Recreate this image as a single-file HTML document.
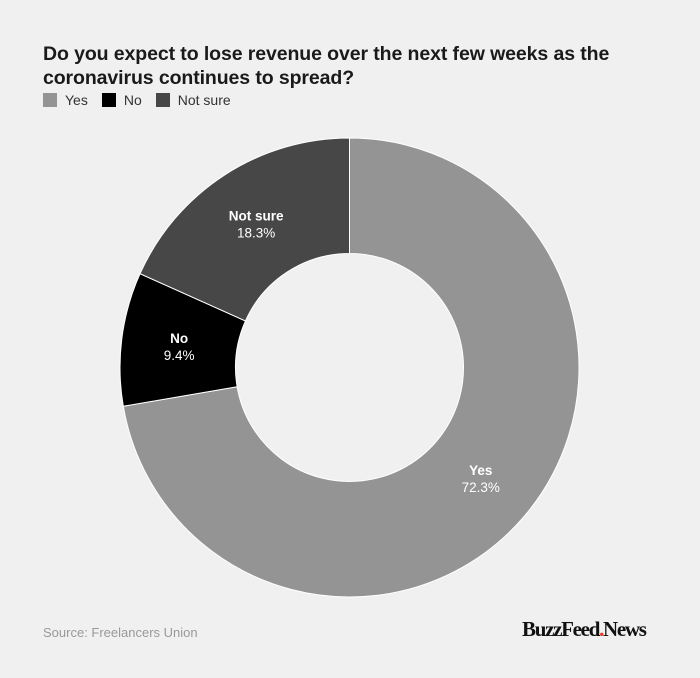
<!DOCTYPE html>
<html><head><meta charset="utf-8"><style>
body{margin:0;background:#f0f0f0;font-family:"Liberation Sans",sans-serif;}
#wrap{position:relative;width:700px;height:678px;background:#f0f0f0;overflow:hidden;}
#title{position:absolute;left:43px;top:42px;font-size:19.5px;font-weight:bold;color:#1a1a1a;line-height:24px;letter-spacing:-0.1px;}
#legend{position:absolute;left:43px;top:92px;font-size:14px;color:#333;display:flex;gap:14px;}
.li{display:flex;align-items:center;gap:8px;}
.sw{width:14px;height:14px;display:inline-block;}
#source{position:absolute;left:43px;top:625px;font-size:13px;color:#999;}
#logo{position:absolute;left:522px;top:617px;font-family:"Liberation Serif",serif;font-weight:bold;font-size:21px;color:#111;letter-spacing:-1.3px;}
</style></head><body>
<div id="wrap">
<div id="title">Do you expect to lose revenue over the next few weeks as the<br>coronavirus continues to spread?</div>
<div id="legend">
<span class="li"><span class="sw" style="background:#949494"></span>Yes</span>
<span class="li"><span class="sw" style="background:#000"></span>No</span>
<span class="li"><span class="sw" style="background:#474747"></span>Not sure</span>
</div>
<svg id="svg" width="700" height="678" style="position:absolute;left:0;top:0"></svg>
<div id="source">Source: Freelancers Union</div>
<div id="logo">BuzzFeed<span style="color:#e32">.</span>News</div>
</div>
<script>
const categories = ["Yes", "No", "Not sure"];
const values = [72.3, 9.4, 18.3];
const valueLabels = ["72.3%", "9.4%", "18.3%"];
const colors = ["#949494", "#000000", "#474747"];
const cx = 349.5, cy = 367.5, R = 229.5, r = 114;
const svg = document.getElementById('svg');
const NS = "http://www.w3.org/2000/svg";
const total = values.reduce((a, b) => a + b, 0);
function pt(rad, a) { return [cx + rad * Math.sin(a), cy - rad * Math.cos(a)]; }
let acc = 0;
values.forEach((v, i) => {
  const a0 = acc / total * 2 * Math.PI;
  acc += v;
  const a1 = acc / total * 2 * Math.PI;
  const large = (a1 - a0) > Math.PI ? 1 : 0;
  const p0 = pt(R, a0), p1 = pt(R, a1), q1 = pt(r, a1), q0 = pt(r, a0);
  const path = document.createElementNS(NS, 'path');
  path.setAttribute('d', `M${p0[0]},${p0[1]} A${R},${R} 0 ${large} 1 ${p1[0]},${p1[1]} L${q1[0]},${q1[1]} A${r},${r} 0 ${large} 0 ${q0[0]},${q0[1]} Z`);
  path.setAttribute('fill', colors[i]);
  path.setAttribute('stroke', '#ffffff');
  path.setAttribute('stroke-width', '1');
  
  
  svg.appendChild(path);
  const am = (a0 + a1) / 2;
  const lp = pt((R + r) / 2, am);
  const t1 = document.createElementNS(NS, 'text');
  t1.setAttribute('x', lp[0]); t1.setAttribute('y', lp[1] - 3);
  t1.setAttribute('text-anchor', 'middle');
  t1.setAttribute('fill', '#fff');
  t1.setAttribute('font-size', '13.5');
  t1.setAttribute('font-weight', 'bold');
  t1.setAttribute('font-family', 'Liberation Sans, sans-serif');
  t1.textContent = categories[i];
  
  
  svg.appendChild(t1);
  const t2 = document.createElementNS(NS, 'text');
  t2.setAttribute('x', lp[0]); t2.setAttribute('y', lp[1] + 14);
  t2.setAttribute('text-anchor', 'middle');
  t2.setAttribute('fill', '#fff');
  t2.setAttribute('font-size', '13.5');
  t2.setAttribute('font-family', 'Liberation Sans, sans-serif');
  t2.textContent = valueLabels[i];
  
  
  svg.appendChild(t2);
});
</script>
</body></html>
